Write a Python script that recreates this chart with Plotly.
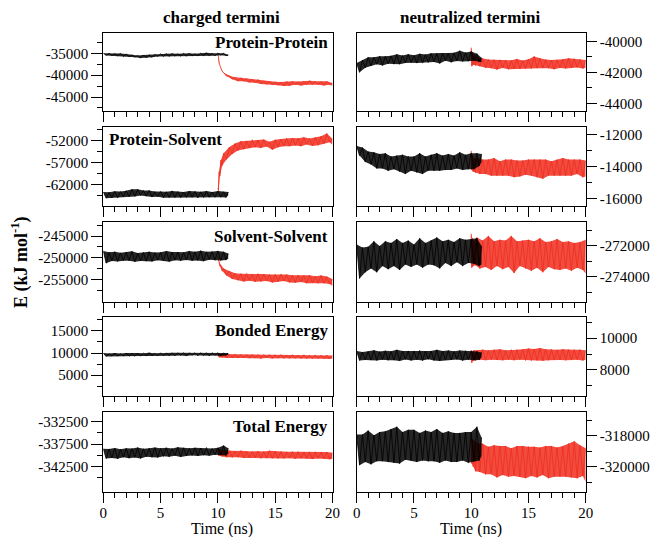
import plotly.graph_objects as go

W, H = 653, 537

# ---------------- data ----------------
T_BLACK = [0, 0.5, 1, 1.5, 2, 2.5, 3, 3.5, 4, 4.5, 5, 5.5, 6, 6.5, 7, 7.5, 8, 8.5, 9, 9.5, 10, 10.5, 10.9]
T_RED = [10.0, 10.1, 10.25, 10.5, 11, 11.5, 12, 12.5, 13, 13.5, 14, 14.5, 15, 15.5, 16, 16.5, 17, 17.5, 18, 18.5, 19, 19.5, 20]

# Protein-Protein, charged termini
PP_C_BLACK_MID = [-35200, -35250, -35300, -35350, -35450, -35600, -35750, -35700, -35600, -35450, -35400, -35350,
                  -35300, -35350, -35300, -35250, -35300, -35250, -35200, -35250, -35150, -35250, -35450]
PP_C_BLACK_SPREAD = [250, 300, 250, 350, 300, 250, 300, 350, 300, 250, 300, 350, 300, 250, 350, 300, 250, 300, 350, 300, 250, 300, 150]
PP_C_RED_MID = [-35500, -37500, -38800, -39800, -40500, -40900, -41000, -41200, -41300, -41500, -41700, -41800,
                -41900, -42000, -41900, -41800, -41900, -41800, -41700, -41800, -41900, -41800, -42100]
PP_C_RED_SPREAD = [200, 300, 350, 400, 400, 450, 400, 450, 400, 500, 400, 450, 400, 450, 500, 400, 450, 400, 450, 400, 450, 400, 300]

# Protein-Protein, neutralized termini
PP_N_BLACK_MID = [-41700, -41450, -41300, -41250, -41250, -41200, -41200, -41150, -41150, -41100, -41150, -41100,
                  -41100, -41050, -41100, -41000, -41050, -41000, -40950, -41000, -40950, -41050, -41200]
PP_N_BLACK_SPREAD = [300, 250, 280, 230, 300, 250, 270, 320, 240, 280, 250, 300, 260, 280, 320, 250, 300, 270, 350, 280, 300, 260, 150]
PP_N_RED_MID = [-41000, -41100, -41200, -41300, -41400, -41450, -41500, -41450, -41500, -41500, -41450, -41500,
                -41450, -41350, -41400, -41450, -41500, -41450, -41450, -41400, -41400, -41450, -41450]
PP_N_RED_SPREAD = [600, 400, 350, 300, 300, 280, 320, 260, 300, 280, 320, 270, 300, 380, 320, 280, 300, 260, 300, 320, 280, 300, 250]

# Protein-Solvent, charged termini
PS_C_BLACK_MID = [-64300, -64300, -64200, -64100, -64000, -63800, -63700, -63900, -64000, -64100, -64200, -64200,
                  -64100, -64200, -64200, -64100, -64200, -64200, -64100, -64200, -64100, -64200, -64000]
PS_C_BLACK_SPREAD = [700, 650, 750, 600, 700, 800, 700, 650, 750, 600, 700, 650, 750, 700, 600, 700, 750, 650, 700, 600, 700, 650, 400]
PS_C_RED_MID = [-63000, -59500, -57000, -55500, -54200, -53400, -53000, -52800, -52600, -52700, -52500, -53100,
                -52600, -52400, -52300, -52200, -52300, -52000, -52300, -52100, -51800, -51300, -52200]
PS_C_RED_SPREAD = [300, 500, 600, 700, 800, 800, 900, 800, 850, 900, 800, 900, 850, 800, 900, 850, 900, 800, 850, 900, 850, 1000, 700]

# Protein-Solvent, neutralized termini
PS_N_BLACK_MID = [-13000, -13250, -13450, -13600, -13650, -13700, -13750, -13800, -13850, -13800, -13850, -13800,
                  -13800, -13750, -13700, -13750, -13700, -13700, -13650, -13700, -13650, -13550, -13450]
PS_N_BLACK_SPREAD = [300, 450, 400, 500, 450, 550, 400, 500, 600, 450, 500, 650, 450, 500, 550, 450, 500, 400, 550, 450, 500, 400, 250]
PS_N_RED_MID = [-13600, -13800, -13900, -13950, -14000, -14050, -14000, -14100, -14050, -14100, -14100, -14050,
                -14050, -14100, -14150, -14050, -14100, -14050, -14000, -14050, -14000, -14100, -14100]
PS_N_RED_SPREAD = [600, 500, 450, 500, 450, 500, 550, 450, 500, 550, 500, 450, 500, 550, 600, 500, 450, 500, 550, 500, 450, 550, 500]

# Solvent-Solvent, charged termini
SS_C_BLACK_MID = [-249800, -249700, -249700, -249750, -249650, -249700, -249800, -249750, -249700, -249650, -249700, -249650,
                  -249600, -249650, -249600, -249550, -249600, -249550, -249500, -249550, -249500, -249550, -249600]
SS_C_BLACK_SPREAD = [1400, 1000, 1100, 900, 1000, 1200, 900, 1000, 1100, 900, 1000, 1200, 950, 1000, 900, 1100, 1000, 1200, 900, 1000, 1100, 950, 600]
SS_C_RED_MID = [-250000, -251300, -252300, -253200, -253900, -254300, -254500, -254400, -254600, -254500, -254500, -254700,
                -254600, -254500, -254700, -254800, -254700, -254900, -254800, -255000, -254900, -255100, -255600]
SS_C_RED_SPREAD = [400, 600, 700, 800, 900, 800, 900, 800, 850, 900, 800, 900, 850, 800, 900, 850, 800, 900, 850, 800, 900, 850, 800]

# Solvent-Solvent, neutralized termini
SS_N_BLACK_MID = [-273000, -272900, -272750, -272700, -272650, -272600, -272550, -272550, -272500, -272500, -272550, -272450,
                  -272500, -272450, -272450, -272400, -272450, -272400, -272400, -272350, -272350, -272400, -272600]
SS_N_BLACK_SPREAD = [1100, 800, 700, 1000, 650, 900, 750, 1000, 700, 850, 650, 950, 700, 800, 1000, 700, 850, 650, 900, 750, 800, 900, 600]
SS_N_RED_MID = [-272300, -272400, -272450, -272450, -272500, -272450, -272500, -272550, -272500, -272550, -272500, -272550,
                -272600, -272550, -272600, -272550, -272600, -272550, -272600, -272650, -272600, -272650, -272700]
SS_N_RED_SPREAD = [1100, 900, 800, 1000, 850, 1100, 800, 950, 850, 1200, 800, 900, 1000, 850, 1100, 800, 900, 1000, 850, 950, 800, 900, 1100]

# Bonded Energy, charged termini
BE_C_BLACK_MID = [9600, 9600, 9650, 9600, 9650, 9600, 9650, 9650, 9700, 9650, 9700, 9700,
                  9700, 9750, 9700, 9750, 9700, 9750, 9700, 9750, 9700, 9750, 9800]
BE_C_BLACK_SPREAD = [380, 300, 350, 280, 360, 320, 340, 300, 370, 290, 350, 310, 340, 300, 360, 280, 350, 320, 340, 300, 360, 300, 200]
BE_C_RED_MID = [9500, 9400, 9350, 9300, 9300, 9300, 9250, 9250, 9250, 9200, 9250, 9200,
                9200, 9200, 9150, 9200, 9150, 9150, 9100, 9150, 9100, 9100, 9100]
BE_C_RED_SPREAD = [300, 400, 380, 420, 400, 450, 380, 420, 400, 450, 380, 420, 400, 450, 380, 420, 400, 450, 380, 420, 400, 450, 350]

# Bonded Energy, neutralized termini
BE_N_BLACK_MID = [8900, 8880, 8900, 8920, 8900, 8910, 8900, 8920, 8930, 8900, 8920, 8910,
                  8930, 8900, 8920, 8910, 8930, 8920, 8910, 8930, 8920, 8900, 8950]
BE_N_BLACK_SPREAD = [300, 250, 280, 320, 260, 300, 280, 350, 270, 300, 280, 320, 260, 300, 350, 280, 300, 260, 320, 280, 300, 260, 150]
BE_N_RED_MID = [8800, 8900, 8920, 8940, 8950, 8940, 8950, 8960, 8940, 8950, 8960, 8950,
                8970, 8960, 8980, 8960, 8970, 8950, 8960, 8950, 8960, 8940, 8950]
BE_N_RED_SPREAD = [350, 300, 320, 300, 330, 300, 320, 350, 300, 330, 320, 350, 380, 360, 400, 350, 330, 320, 350, 330, 320, 340, 300]

# Total Energy, charged termini
TE_C_BLACK_MID = [-339600, -339550, -339550, -339500, -339500, -339450, -339450, -339400, -339400, -339350, -339300, -339300,
                  -339250, -339250, -339200, -339200, -339200, -339150, -339150, -339150, -339100, -338900, -339000]
TE_C_BLACK_SPREAD = [1100, 1000, 1200, 900, 1100, 1000, 1200, 900, 1000, 1100, 900, 1000, 800, 1100, 900, 800, 900, 800, 900, 700, 800, 1100, 600]
TE_C_RED_MID = [-339200, -339400, -339500, -339600, -339700, -339700, -339750, -339800, -339800, -339850, -339850, -339800,
                -339850, -339900, -339900, -339950, -339900, -339950, -340000, -339950, -340000, -340050, -340100]
TE_C_RED_SPREAD = [800, 700, 750, 800, 750, 700, 800, 750, 700, 800, 750, 850, 800, 750, 700, 800, 750, 700, 800, 750, 700, 800, 700]

# Total Energy, neutralized termini
TE_N_BLACK_MID = [-318900, -318800, -318750, -318800, -318700, -318700, -318650, -318600, -318650, -318600, -318650, -318700,
                  -318650, -318700, -318650, -318700, -318700, -318750, -318700, -318750, -318700, -318500, -318700]
TE_N_BLACK_SPREAD = [1000, 900, 1100, 850, 950, 1000, 1100, 1200, 900, 1000, 1050, 900, 1000, 950, 1100, 900, 1000, 950, 900, 1000, 950, 1100, 600]
TE_N_RED_MID = [-318800, -319100, -319300, -319400, -319500, -319600, -319650, -319600, -319650, -319700, -319650, -319700,
                -319650, -319700, -319650, -319700, -319650, -319700, -319650, -319600, -319550, -319600, -319900]
TE_N_RED_SPREAD = [1000, 900, 1000, 950, 1000, 900, 1050, 950, 1000, 900, 1000, 1050, 950, 1000, 900, 1050, 1000, 950, 1000, 1100, 1200, 1000, 1100]

PANEL_LABELS = ["Protein-Protein", "Protein-Solvent", "Solvent-Solvent", "Bonded Energy", "Total Energy"]
COLUMN_TITLES = ["charged termini", "neutralized termini"]
X_MAJOR = [0, 5, 10, 15, 20]
X_MINOR = [1, 2, 3, 4, 6, 7, 8, 9, 11, 12, 13, 14, 16, 17, 18, 19]

# y axes: (range, major ticks, minor ticks) per panel [row][col]
Y_AXES = [
    [([-48200, -30200], [-35000, -40000, -45000], [-32500, -37500, -42500, -47500]),
     ([-44500, -39420], [-40000, -42000, -44000], [-41000, -43000])],
    [([-66780, -48850], [-52000, -57000, -62000], [-49500, -54500, -59500, -64500]),
     ([-16440, -11520], [-12000, -14000, -16000], [-13000, -15000])],
    [([-260000, -241800], [-245000, -250000, -255000], [-242500, -247500, -252500, -257500]),
     ([-275600, -270450], [-272000, -274000], [-271000, -273000, -275000])],
    [([250, 18100], [5000, 10000, 15000], [2500, 7500, 12500, 17500]),
     ([6360, 11320], [8000, 10000], [7000, 9000, 11000])],
    [([-348050, -330280], [-332500, -337500, -342500], [-335000, -340000, -345000]),
     ([-321630, -316420], [-318000, -320000], [-317000, -319000, -321000])],
]

SERIES = [
    [(PP_C_BLACK_MID, PP_C_BLACK_SPREAD, PP_C_RED_MID, PP_C_RED_SPREAD),
     (PP_N_BLACK_MID, PP_N_BLACK_SPREAD, PP_N_RED_MID, PP_N_RED_SPREAD)],
    [(PS_C_BLACK_MID, PS_C_BLACK_SPREAD, PS_C_RED_MID, PS_C_RED_SPREAD),
     (PS_N_BLACK_MID, PS_N_BLACK_SPREAD, PS_N_RED_MID, PS_N_RED_SPREAD)],
    [(SS_C_BLACK_MID, SS_C_BLACK_SPREAD, SS_C_RED_MID, SS_C_RED_SPREAD),
     (SS_N_BLACK_MID, SS_N_BLACK_SPREAD, SS_N_RED_MID, SS_N_RED_SPREAD)],
    [(BE_C_BLACK_MID, BE_C_BLACK_SPREAD, BE_C_RED_MID, BE_C_RED_SPREAD),
     (BE_N_BLACK_MID, BE_N_BLACK_SPREAD, BE_N_RED_MID, BE_N_RED_SPREAD)],
    [(TE_C_BLACK_MID, TE_C_BLACK_SPREAD, TE_C_RED_MID, TE_C_RED_SPREAD),
     (TE_N_BLACK_MID, TE_N_BLACK_SPREAD, TE_N_RED_MID, TE_N_RED_SPREAD)],
]

# ---------------- layout geometry (pixels) ----------------
ROW_TOP = [32.5, 127.0, 222.0, 317.3, 411.7]
ROW_BOT = [111.0, 206.0, 301.7, 396.0, 491.7]
COL_L = [103.3, 356.7]
COL_R = [332.5, 585.7]

FONT = "Liberation Serif"
RED = "rgb(240,45,30)"
RED_FILL = "rgba(240,45,30,0.85)"
BLACK = "#000000"
BLACK_FILL = "rgba(0,0,0,0.85)"


def band_and_line(t, mid, spread):
    """Noise band: upper edge at the sample times, lower edge between them."""
    n = len(t)
    hx, hy, lx, ly = [], [], [], []
    zx, zy = [], []
    for i in range(n):
        hx.append(t[i])
        hy.append(mid[i] + spread[i])
        zx.append(t[i])
        zy.append(mid[i] + spread[i])
        m = (t[i] + t[i + 1]) / 2.0 if i < n - 1 else t[i]
        lx.append(m)
        ly.append(mid[i] - spread[i])
        if i < n - 1:
            zx.append(m)
            zy.append(mid[i] - spread[i])
    poly_x = hx + lx[::-1]
    poly_y = hy + ly[::-1]
    return (poly_x, poly_y), (zx, zy)


fig = go.Figure()
layout = dict(
    width=W, height=H, autosize=False,
    margin=dict(l=0, r=0, t=0, b=0, pad=0, autoexpand=False),
    paper_bgcolor="white", plot_bgcolor="white",
    showlegend=False,
    font=dict(family=FONT, size=15, color="black"),
)

for r in range(5):
    for c in range(2):
        i = r * 2 + c + 1
        xname = "x" if i == 1 else f"x{i}"
        yname = "y" if i == 1 else f"y{i}"
        bm, bs, rm, rs = SERIES[r][c]
        for t, mid, sp, col, fcol in [(T_RED, rm, rs, RED, RED_FILL), (T_BLACK, bm, bs, BLACK, BLACK_FILL)]:
            (px_, py_), (zx, zy) = band_and_line(t, mid, sp)
            fig.add_trace(go.Scatter(x=px_, y=py_, mode="lines", fill="toself", fillcolor=fcol,
                                     xaxis=xname, yaxis=yname, line=dict(width=0, color=fcol),
                                     hoverinfo="skip"))
            fig.add_trace(go.Scatter(x=zx, y=zy, mode="lines", xaxis=xname, yaxis=yname,
                                     line=dict(color=col, width=0.8), hoverinfo="skip"))

        yr, ymaj, ymin = Y_AXES[r][c]
        xkey = "xaxis" if i == 1 else f"xaxis{i}"
        ykey = "yaxis" if i == 1 else f"yaxis{i}"
        layout[xkey] = dict(
            domain=[COL_L[c] / W, COL_R[c] / W], anchor=yname, range=[0, 20],
            showline=True, linecolor="black", linewidth=1, mirror=True,
            ticks="outside", ticklen=10, tickwidth=1, tickcolor="black",
            tickmode="array", tickvals=X_MAJOR, ticktext=[str(v) for v in X_MAJOR],
            showticklabels=(r == 4), automargin=False, ticklabelstandoff=-3,
            minor=dict(tickmode="array", tickvals=X_MINOR, ticks="outside", ticklen=5,
                       tickwidth=1, tickcolor="black", showgrid=False),
            showgrid=False, zeroline=False,
            tickfont=dict(family=FONT, size=15, color="black"),
        )
        layout[ykey] = dict(
            domain=[1 - ROW_BOT[r] / H, 1 - ROW_TOP[r] / H], anchor=xname, range=yr,
            side="left" if c == 0 else "right", automargin=False,
            showline=True, linecolor="black", linewidth=1, mirror=True,
            ticks="outside", ticklen=11 if c == 0 else 10, tickwidth=1, tickcolor="black",
            tickmode="array", tickvals=ymaj, ticktext=[str(v) for v in ymaj],
            minor=dict(tickmode="array", tickvals=ymin, ticks="outside", ticklen=5,
                       tickwidth=1, tickcolor="black", showgrid=False),
            showgrid=False, zeroline=False,
            tickfont=dict(family=FONT, size=15, color="black"),
        )


def px(x):
    return x / W


def py(y):
    return 1 - y / H


ann = []
for txt, xc in zip(COLUMN_TITLES, [222, 470]):
    ann.append(dict(text=f"<b>{txt}</b>", x=px(xc), y=py(17), xref="paper", yref="paper",
                    xanchor="center", yanchor="middle", showarrow=False,
                    font=dict(family=FONT, size=17, color="black")))
LABEL_POS = [(330, 43, "right"), (107, 140, "left"), (330, 236, "right"), (330, 330, "right"), (330, 426, "right")]
for txt, (lx, ly, anc) in zip(PANEL_LABELS, LABEL_POS):
    ann.append(dict(text=f"<b>{txt}</b>", x=px(lx), y=py(ly), xref="paper", yref="paper",
                    xanchor=anc, yanchor="middle", showarrow=False,
                    font=dict(family=FONT, size=17, color="black")))
ann.append(dict(text="<b>E (kJ mol<sup>-1</sup>)</b>", x=px(20), y=py(262), xref="paper", yref="paper",
                xanchor="center", yanchor="middle", showarrow=False, textangle=-90,
                font=dict(family=FONT, size=18, color="black")))
for xc in [222, 471]:
    ann.append(dict(text="Time (ns)", x=px(xc), y=py(529), xref="paper", yref="paper",
                    xanchor="center", yanchor="middle", showarrow=False,
                    font=dict(family=FONT, size=16, color="black")))

layout["annotations"] = ann
fig.update_layout(**layout)
fig.write_html("out.html",
               config={"displayModeBar": False},
               post_script="document.body.style.margin='0px';document.body.style.padding='0px';"
                           "document.documentElement.style.overflow='hidden';")
